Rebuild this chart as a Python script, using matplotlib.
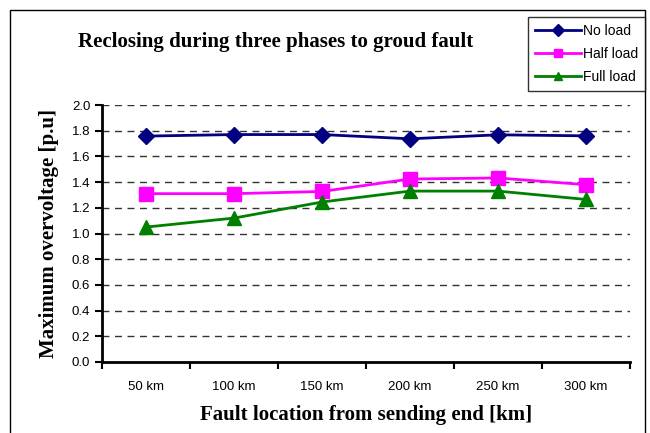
import matplotlib
matplotlib.use('Agg')
import matplotlib.pyplot as plt
from matplotlib.patches import Rectangle

locations = ['50 km', '100 km', '150 km', '200 km', '250 km', '300 km']
no_load = [1.758, 1.770, 1.770, 1.737, 1.768, 1.760]
half_load = [1.310, 1.310, 1.327, 1.424, 1.432, 1.380]
full_load = [1.050, 1.120, 1.245, 1.330, 1.330, 1.265]

fig = plt.figure(figsize=(6.5, 4.33), dpi=100)
ax = fig.add_axes([102/650, 1-362/433, 528/650, 257/433])

x = range(len(locations))
ax.plot(x, no_load, color='#000080', marker='D', markersize=8, lw=2, label='No load')
ax.plot(x, half_load, color='#ff00ff', marker='s', markersize=10, lw=2, label='Half load')
ax.plot(x, full_load, color='#008000', marker='^', markersize=10, lw=2, label='Full load')

ax.set_xlim(-0.5, len(locations)-0.5)
ax.set_ylim(0, 2.0)
ax.set_yticks([i/5 for i in range(11)])
ax.set_yticklabels(['%.1f' % (i/5) for i in range(11)], fontsize=9.5, family='Liberation Sans')
ax.set_xticks(list(x))
ax.set_xticklabels(locations, fontsize=9.5, family='Liberation Sans')
ax.set_xticks([i-0.5 for i in range(len(locations)+1)], minor=True)
ax.tick_params(axis='x', which='major', length=0, pad=14)
ax.tick_params(axis='x', which='minor', length=5, width=1.5, direction='out')
ax.tick_params(axis='y', length=5, width=1.5, direction='out')
ax.yaxis.grid(True, linestyle=(0, (5, 4)), color='#333333', lw=1)
ax.set_axisbelow(True)
for s in ['top', 'right']:
    ax.spines[s].set_visible(False)
for s in ['left', 'bottom']:
    ax.spines[s].set_linewidth(2)

ax.set_xlabel('Fault location from sending end [km]', fontsize=15, fontweight='bold',
              family='Liberation Serif', labelpad=8)
ax.set_ylabel('Maximum overvoltage [p.u]', fontsize=15, fontweight='bold',
              family='Liberation Serif', labelpad=9)
fig.text(276/650, 1-42/433, 'Reclosing during three phases to groud fault', fontsize=15,
         fontweight='bold', family='Liberation Serif', ha='center', va='center')

fig.patches.append(Rectangle((10/650, -0.05), 635/650, 1.05-10/433, transform=fig.transFigure,
                             fill=False, edgecolor='black', lw=1))

leg = fig.legend(loc='upper left', bbox_to_anchor=(528/650, 1-17/433),
                 prop={'family': 'Liberation Sans', 'size': 10}, frameon=True, fancybox=False,
                 edgecolor='black', handlelength=3.3, borderpad=0.5, labelspacing=0.65,
                 handletextpad=0.15, borderaxespad=0)
leg.get_frame().set_linewidth(1)
for h in leg.legend_handles:
    h.set_markersize(6)

fig.savefig('out.png', dpi=100)
